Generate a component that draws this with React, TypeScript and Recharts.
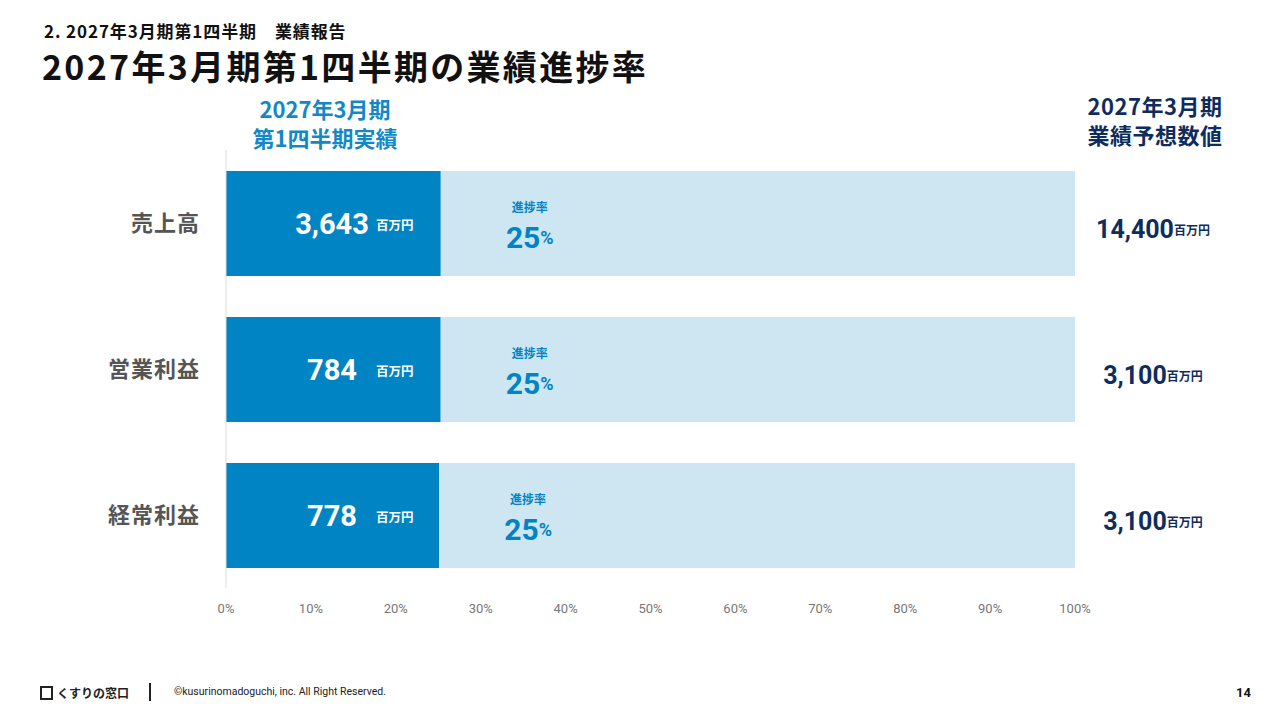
import React from "react";
import { BarChart, Bar, XAxis, YAxis, LabelList } from "recharts";

const categories = ["売上高", "営業利益", "経常利益"];
const actual = [3643, 784, 778];
const forecast = [14400, 3100, 3100];
const xTicks = [0, 10, 20, 30, 40, 50, 60, 70, 80, 90, 100];

const data = categories.map((name, i) => {
  const progress = (actual[i] / forecast[i]) * 100;
  return { name, progress, remain: 100 - progress };
});

const JP = "'Noto Sans CJK JP', 'Noto Sans', sans-serif";
const NUM = "Roboto, 'Noto Sans CJK JP', sans-serif";
const DARK = "#0084C4";
const LIGHT = "#CEE5F2";
const NAVY = "#0E2D5E";

function CategoryTick(props: any) {
  const { x, y, payload } = props;
  return (
    <text x={x} y={y - 2} textAnchor="end" dominantBaseline="central" fill="#555" fontSize={22} letterSpacing={1} fontWeight={700} fontFamily={JP}>
      {payload.value}
    </text>
  );
}

function ActualLabel(props: any) {
  const { x, y, height, index } = props;
  const cy = y + height / 2;
  return (
    <g fontFamily={NUM} fontWeight={700} fill="#fff">
      <text x={x + 106} y={cy} textAnchor="middle" dominantBaseline="central" fontSize={29} fill="#fff">
        {actual[index].toLocaleString("en-US")}
      </text>
      <text x={x + 150} y={cy + 1} dominantBaseline="central" fontSize={12.5} fill="#fff" fontFamily={JP}>
        百万円
      </text>
    </g>
  );
}

function RemainLabel(props: any) {
  const { x, y, width, height, index } = props;
  const cy = y + height / 2;
  const pct = Math.round((actual[index] / forecast[index]) * 100);
  return (
    <g fontWeight={700}>
      <text x={x + 89} y={cy - 17} textAnchor="middle" dominantBaseline="central" fontSize={12} fill={DARK} fontFamily={JP}>
        進捗率
      </text>
      <text x={x + 89} y={cy + 13} textAnchor="middle" dominantBaseline="central" fill={DARK} fontFamily={NUM}>
        <tspan fontSize={30}>{pct}</tspan>
        <tspan fontSize={18}>%</tspan>
      </text>
      <text x={x + width + 78} y={cy + 5} textAnchor="middle" dominantBaseline="central" fill={NAVY} fontFamily={NUM}>
        <tspan fontSize={25}>{forecast[index].toLocaleString("en-US")}</tspan>
        <tspan fontSize={12} fontFamily={JP}>百万円</tspan>
      </text>
    </g>
  );
}

export default function App() {
  return (
    <div style={{ position: "absolute", left: 0, top: 0, width: 1280, height: 720, background: "#fff", fontFamily: JP, overflow: "hidden" }}>
      <div style={{ position: "absolute", left: 44, top: 18, fontSize: 17, fontWeight: 700, color: "#111", letterSpacing: 0.9 }}>
        2. 2027年3月期第1四半期　業績報告
      </div>
      <div style={{ position: "absolute", left: 42, top: 41, fontSize: 34, fontWeight: 700, color: "#111", letterSpacing: 2.3 }}>
        2027年3月期第1四半期の業績進捗率
      </div>
      <div style={{ position: "absolute", left: 225, top: 94, width: 200, textAlign: "center", fontSize: 22, lineHeight: "29px", fontWeight: 700, color: "#1388C8" }}>
        2027年3月期<br />第1四半期実績
      </div>
      <div style={{ position: "absolute", left: 1055, top: 91, width: 200, textAlign: "center", fontSize: 22, lineHeight: "29px", fontWeight: 700, color: NAVY, letterSpacing: 0.5 }}>
        2027年3月期<br />業績予想数値
      </div>

      <div style={{ position: "absolute", left: 0, top: 0 }}>
        <BarChart width={1280} height={720} data={data} layout="vertical" barSize={105} margin={{ top: 150, right: 205, bottom: 102, left: 0 }}>
          <XAxis
            type="number"
            domain={[0, 100]}
            ticks={xTicks}
            tickFormatter={(v) => `${v}%`}
            axisLine={false}
            tickLine={false}
            tickMargin={10}
            height={30}
            tick={{ fill: "#777", fontSize: 13, fontFamily: NUM }}
          />
          <YAxis
            type="category"
            dataKey="name"
            width={226}
            axisLine={{ stroke: "#dcdcdc" }}
            tickLine={false}
            tickMargin={20}
            tick={<CategoryTick />}
          />
          <Bar dataKey="progress" stackId="a" fill={DARK} isAnimationActive={false}>
            <LabelList dataKey="progress" content={<ActualLabel />} />
          </Bar>
          <Bar dataKey="remain" stackId="a" fill={LIGHT} isAnimationActive={false}>
            <LabelList dataKey="remain" content={<RemainLabel />} />
          </Bar>
        </BarChart>
      </div>

      <div style={{ position: "absolute", left: 40, top: 684, display: "flex", alignItems: "center", fontSize: 12, fontWeight: 700, color: "#222" }}>
        <div style={{ width: 13, height: 14, border: "2px solid #222", boxSizing: "border-box", marginRight: 4 }} />
        くすりの窓口
      </div>
      <div style={{ position: "absolute", left: 149, top: 683, width: 2, height: 18, background: "#222" }} />
      <div style={{ position: "absolute", left: 174, top: 685, fontSize: 10.5, color: "#222", fontFamily: NUM }}>
        ©kusurinomadoguchi, inc. All Right Reserved.
      </div>
      <div style={{ position: "absolute", left: 1236, top: 685, fontSize: 13, fontWeight: 700, color: "#111", fontFamily: NUM }}>
        14
      </div>
    </div>
  );
}
